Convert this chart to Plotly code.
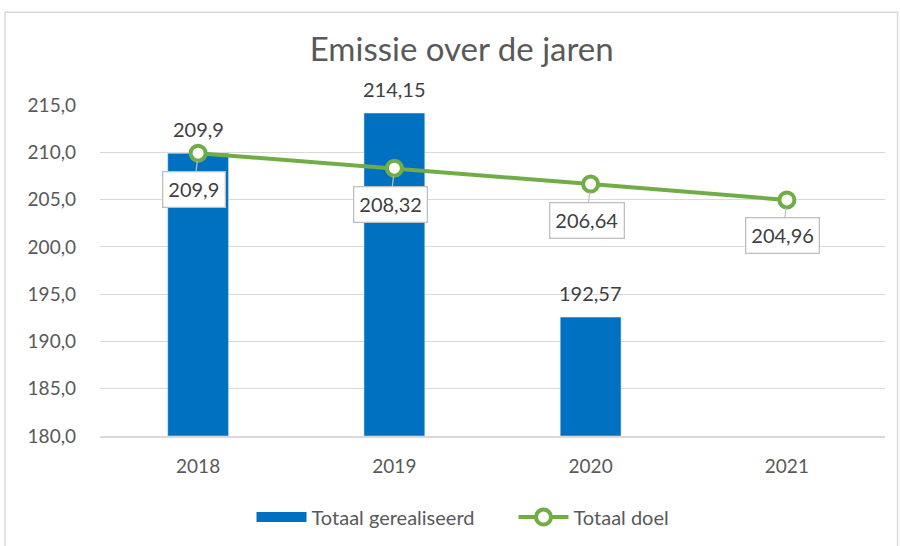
import plotly.graph_objects as go

years = ["2018", "2019", "2020", "2021"]
realised = [209.9, 214.15, 192.57]
target = [209.9, 208.32, 206.64, 204.96]
y_ticks = [180, 185, 190, 195, 200, 205, 210, 215]

def nl(v):
    return str(v).replace(".", ",")

FONT = "Lato, 'Open Sans', sans-serif"
GREY = "#595959"
DARK = "#404040"
BLUE = "#0070C0"
GREEN = "#70AD47"

fig = go.Figure()
fig.add_trace(go.Bar(
    x=years[:len(realised)], y=[v - 180 for v in realised], base=180,
    name="Totaal gerealiseerd", marker_color=BLUE, width=0.31, showlegend=False,
    cliponaxis=False,
))
# legend stand-in for the bar series (wide rectangle swatch)
fig.add_trace(go.Scatter(
    x=[None], y=[None], name="Totaal gerealiseerd", mode="lines",
    line=dict(color=BLUE, width=12),
))
fig.add_trace(go.Scatter(
    x=years, y=target, name="Totaal doel", mode="lines+markers",
    line=dict(color=GREEN, width=4),
    marker=dict(symbol="circle", size=15, color="white", line=dict(color=GREEN, width=4)),
    cliponaxis=False,
))

for i, v in enumerate(realised):
    fig.add_annotation(
        x=i, y=v, text=nl(v), showarrow=False, yanchor="middle", yshift=24,
        font=dict(size=20, color=DARK, family=FONT),
    )

for i, v in enumerate(target):
    fig.add_annotation(
        x=i, y=v, text=nl(v), showarrow=True, arrowhead=0, arrowwidth=1.2,
        arrowcolor="#BFBFBF", ax=-4, ay=36, bordercolor="#BFBFBF", borderwidth=1.3,
        borderpad=5, bgcolor="white", font=dict(size=20, color=DARK, family=FONT),
        standoff=8,
    )

fig.add_shape(type="rect", xref="paper", yref="paper", x0=-0.121, x1=1.016, y0=-0.4, y1=1.28,
              line=dict(color="#D9D9D9", width=1.5), fillcolor="rgba(0,0,0,0)", layer="below")

fig.update_layout(
    width=900, height=546, paper_bgcolor="white", plot_bgcolor="white",
    separators=",.",
    margin=dict(l=100, r=15, t=105, b=110, autoexpand=False),
    font=dict(family=FONT, color=GREY),
    title=dict(text="Emissie over de jaren", x=0.513, xanchor="center", y=0.91, yanchor="middle",
               font=dict(size=33, color=GREY, family=FONT)),
    xaxis=dict(type="category", showgrid=False, showline=True, linecolor="#D9D9D9", linewidth=1.5,
               ticks="", tickfont=dict(size=19, color=GREY), range=[-0.5, 3.5],
               ticklabelstandoff=12),
    yaxis=dict(range=[180, 215], tickvals=y_ticks, tickformat=".1f", showgrid=True,
               gridcolor="#D9D9D9", gridwidth=1.2, zeroline=False, showline=False,
               tickfont=dict(size=19, color=GREY), ticklabelstandoff=23),
    legend=dict(orientation="h", x=0.193, xanchor="left", yref="container", y=0.053,
                yanchor="middle", font=dict(size=20, color=GREY), itemwidth=50,
                entrywidth=197, entrywidthmode="pixels", traceorder="normal"),
    showlegend=True,
)

fig.write_html("out.html", post_script="document.body.style.margin='0';",
               config={"displayModeBar": False})
